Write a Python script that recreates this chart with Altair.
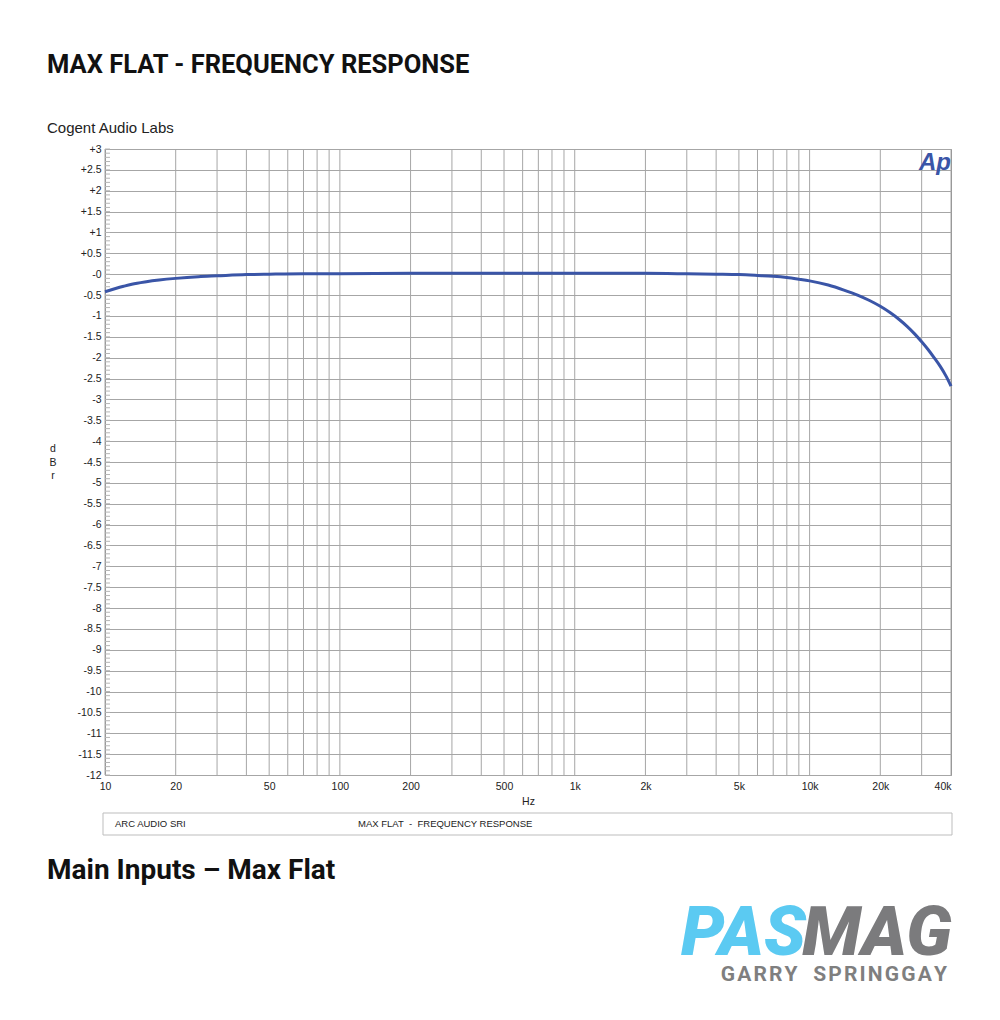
import altair as alt
import pandas as pd

# ---- data ----
freq_hz = [10, 11, 12, 13, 15, 17, 20, 25, 30, 40, 50, 70, 100, 200, 500, 1000,
           2000, 3000, 4000, 5000, 6000, 7000, 8000, 9000, 10000, 12000, 14000,
           16000, 18000, 20000, 22000, 24000, 26000, 28000, 30000, 32000, 34000,
           36000, 38000, 40000]
level_dbr = [-0.42, -0.35, -0.29, -0.24, -0.18, -0.14, -0.10, -0.06, -0.04, -0.01,
             0.00, 0.01, 0.01, 0.02, 0.02, 0.02, 0.02, 0.01, 0.00, -0.01, -0.03,
             -0.05, -0.08, -0.12, -0.16, -0.26, -0.38, -0.50, -0.63, -0.77, -0.92,
             -1.08, -1.25, -1.43, -1.62, -1.81, -2.01, -2.21, -2.43, -2.68]

x_tick_values = [10, 20, 50, 100, 200, 500, 1000, 2000, 5000, 10000, 20000, 40000]
y_tick_values = [-12 + 0.5 * i for i in range(31)]
grid_freqs = [m * 10 ** d for d in range(1, 5) for m in range(1, 10) if m * 10 ** d <= 40000]
minor_ticks = [round(-12 + 0.1 * i, 1) for i in range(151)]

title_text = "MAX FLAT - FREQUENCY RESPONSE"
subtitle_text = "Cogent Audio Labs"
legend_left = "ARC AUDIO SRI"
legend_mid = "MAX FLAT\u00a0\u00a0-\u00a0\u00a0FREQUENCY RESPONSE"
caption_text = "Main Inputs \u2013 Max Flat"
brand_a = "PAS"
brand_b = "MAG"
byline = "\u200a".join("GARRY") + "\u00a0\u00a0\u00a0" + "\u200a".join("SPRINGGAY")

W, H = 846, 626
GRID = "#a6a6a6"
LINE = "#3a55a7"
SANS = "Liberation Sans, Arial, sans-serif"
HEAD = "Roboto, DejaVu Sans, sans-serif"

xs = alt.Scale(type="log", domain=[10, 40000], nice=False)
ys = alt.Scale(domain=[-12, 3], nice=False)

X_AX = alt.Axis(
    values=x_tick_values,
    labelExpr="datum.value >= 1000 ? (datum.value/1000) + 'k' : '' + datum.value",
    labelAlign={"expr": "datum.value >= 40000 ? 'right' : 'center'"},
    grid=False, ticks=False, domain=False,
    labelFont=SANS, labelFontSize=10.5, labelColor="#222", labelPadding=6,
    title="Hz", titleFont=SANS, titleFontSize=10.5, titleFontWeight="normal",
    titleColor="#222", titlePadding=5,
)
Y_AX = alt.Axis(
    values=y_tick_values,
    labelExpr="datum.value > 0 ? '+' + datum.value : (datum.value == 0 ? '-0' : '' + datum.value)",
    grid=True, gridColor=GRID, gridWidth=1, ticks=False, domain=False,
    labelFont=SANS, labelFontSize=10.5, labelColor="#222", labelPadding=4,
    title=None,
)

df = pd.DataFrame({"f": freq_hz, "db": level_dbr})

vgrid = alt.Chart(pd.DataFrame({"f": grid_freqs})).mark_rule(
    color=GRID, strokeWidth=1
).encode(x=alt.X("f:Q", scale=xs, axis=X_AX))

minor = alt.Chart(pd.DataFrame({"v": minor_ticks})).mark_rule(
    color="#b5b5b5", strokeWidth=1
).encode(y=alt.Y("v:Q", scale=ys, axis=Y_AX), x=alt.value(0), x2=alt.value(5))

line = alt.Chart(df).mark_line(
    color=LINE, strokeWidth=3, interpolate="monotone"
).encode(
    x=alt.X("f:Q", scale=xs, axis=X_AX),
    y=alt.Y("db:Q", scale=ys, axis=Y_AX),
)


def label(text, x, y, **kw):
    return alt.Chart(pd.DataFrame({"t": [text]})).mark_text(**kw).encode(
        x=alt.value(x), y=alt.value(y), text="t:N"
    )


legend_box = alt.Chart(pd.DataFrame({"t": [0]})).mark_rect(
    fill="white", stroke="#bdbdbd", strokeWidth=1
).encode(x=alt.value(-2), x2=alt.value(847), y=alt.value(664), y2=alt.value(686))

layers = [
    vgrid, minor, line,
    label(title_text, -58, -76, font=HEAD, fontSize=25.5, fontWeight="bold",
          align="left", baseline="alphabetic", color="#111"),
    label(subtitle_text, -58, -16, font=SANS, fontSize=15, align="left",
          baseline="alphabetic", color="#222"),
    label("d\nB\nr", -52, 300, font=SANS, fontSize=10.5, align="center",
          baseline="middle", lineBreak="\n", lineHeight=13.5, color="#222"),
    label("Ap", 846, 21, font=SANS, fontSize=24, fontWeight="bold",
          fontStyle="italic", align="right", baseline="alphabetic", color=LINE),
    legend_box,
    label(legend_left, 10, 675, font=SANS, fontSize=9.5, align="left",
          baseline="middle", color="#222"),
    label(legend_mid, 253, 675, font=SANS, fontSize=9.5, align="left",
          baseline="middle", color="#222"),
    label(caption_text, -58, 730, font=HEAD, fontSize=28, fontWeight="bold",
          align="left", baseline="alphabetic", color="#111"),
    label(brand_a, 701, 806, font=HEAD, fontSize=69, fontWeight=900,
          fontStyle="italic", align="right", baseline="alphabetic", color="#5bcaf2"),
    label(brand_b, 847, 806, font=HEAD, fontSize=69, fontWeight=900,
          fontStyle="italic", align="right", baseline="alphabetic", color="#7b7b7d"),
    label(byline, 842, 832, font=HEAD, fontSize=21,
          fontWeight="bold", align="right", baseline="alphabetic", color="#7f7f7f"),
]

chart = alt.layer(*layers).properties(
    width=W, height=H,
    autosize=alt.AutoSizeParams(type="none"),
    padding={"left": 97, "top": 141, "right": 40, "bottom": 240},
    background="white",
).configure_view(stroke="#8c8c8c", strokeWidth=1)

chart.save("out.html", embed_options={"renderer": "svg", "actions": False})
